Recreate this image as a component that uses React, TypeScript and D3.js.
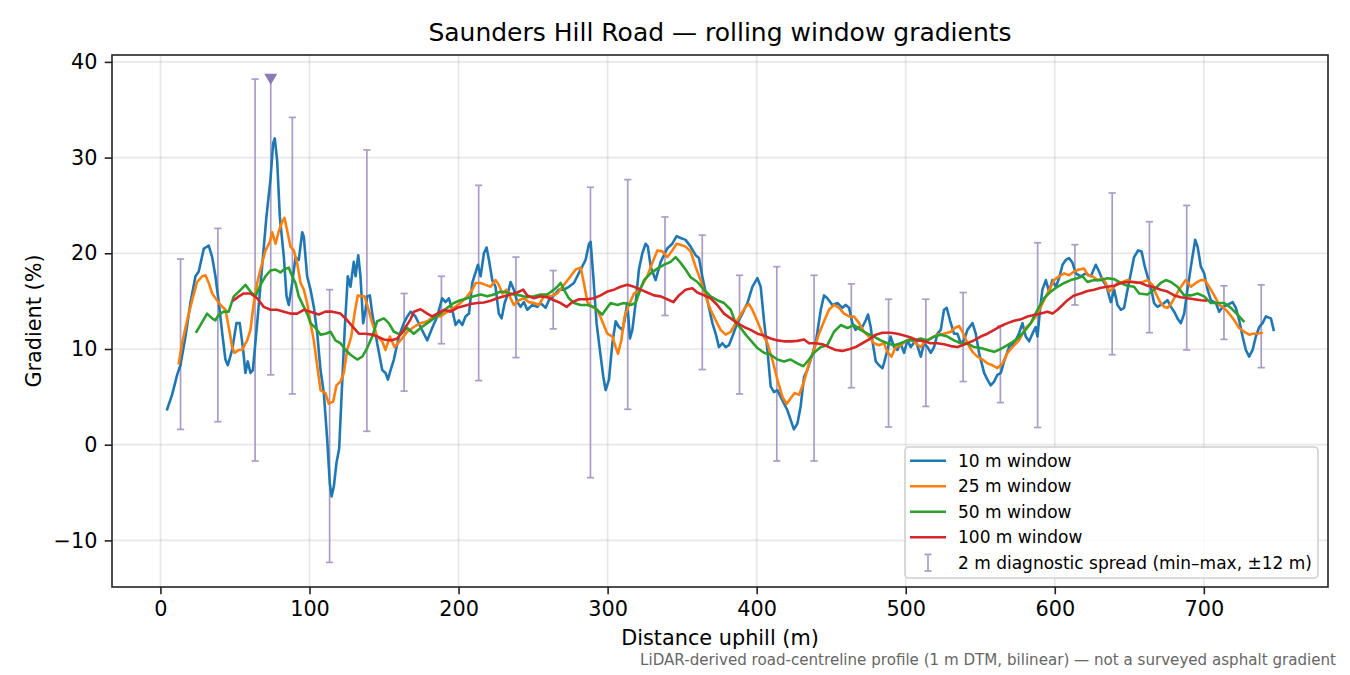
import React, { useEffect, useRef } from 'react';
import * as d3 from 'd3';

type Pt = [number, number];

// rolling-window gradient series: [distance (m), gradient (%)]
const win10: Pt[] = [
  [4.5, 3.7], [7.8, 5.2], [11.2, 7.3], [13.4, 8.3], [16.8, 11.3], [20.1, 14.8], [23.5, 17.6], [25.7, 18.1],
  [29.1, 20.5], [32.4, 20.8], [34.7, 19.6], [36.9, 17.6], [39.2, 14.8], [41.4, 11.7], [43.6, 8.9], [45.2, 8.3],
  [48.1, 9.9], [51, 12.7], [53.2, 12.7], [55.5, 9.9], [57, 7.5], [58.6, 8.7], [60.4, 7.5], [62, 7.8],
  [64.9, 12.7], [68.2, 18.6], [71.1, 23.8], [73.8, 27.7], [75.6, 31.5], [76.7, 32.0], [78.3, 29.7], [80.1, 23.8],
  [82.8, 19.6], [84.6, 15.5], [86.1, 14.6], [88.4, 16.9], [90.6, 19.6], [92.8, 19.3], [95.1, 22.2], [96.2, 21.7],
  [98.4, 17.6], [100.7, 16.2], [102.9, 14.4], [105.2, 11.6], [107.4, 7.8], [109.6, 5.4], [111.9, 0.5], [113.6, -4.0],
  [114.8, -5.4], [116.3, -4.4], [118.1, -1.9], [119.9, -0.4], [121.9, 6.4], [123.7, 12.3], [125.7, 17.6], [127.5, 16.5],
  [129.7, 19.1], [130.9, 17.6], [132.7, 19.8], [134.2, 17.6], [136, 12.7], [137.6, 14.1], [138.7, 15.5], [140.5, 15.6],
  [142.1, 13.7], [145.4, 10.6], [148.8, 7.8], [151, 7.5], [152.6, 6.8], [154.4, 7.8], [156.6, 8.9], [160, 11.3],
  [163.3, 12.7], [165.6, 13.4], [167.8, 13.9], [171.1, 13.4], [174.5, 12.3], [179, 10.9], [182.3, 12.2], [185.7, 13.4],
  [189, 15.3], [191.3, 14.9], [193.5, 15.3], [195.8, 14.1], [198, 12.5], [200.2, 13.0], [202.5, 12.5], [204.7, 13.4],
  [207, 13.7], [209.2, 16.9], [213, 18.8], [214.8, 17.6], [217, 20.0], [218.8, 20.6], [220.4, 19.3], [222.6, 17.2],
  [224.8, 16.5], [227, 13.7], [228.9, 13.2], [230.9, 14.8], [233.1, 15.8], [234.9, 17.0], [237.1, 16.2], [239.4, 14.9],
  [241.6, 14.4], [243.8, 14.9], [246.1, 14.1], [249.5, 14.6], [252.8, 14.4], [255, 14.8], [258.4, 14.3], [260.6, 15.1],
  [264, 15.6], [267.3, 16.2], [270.7, 16.2], [274, 16.5], [277.4, 16.9], [281.9, 18.3], [285.2, 19.3], [287.5, 21.0],
  [288.6, 21.2], [290.4, 17.6], [292.6, 12.7], [294.8, 9.9], [297.1, 7.1], [298.7, 5.7], [300.9, 6.8], [303.2, 10.6],
  [305.4, 12.9], [307.6, 12.3], [309.9, 12.0], [311.4, 13.0], [313.2, 14.8], [315, 11.1], [316.6, 12.0], [318.8, 14.8],
  [321, 18.3], [323.3, 20.0], [325.5, 21.0], [327, 20.7], [328.9, 18.6], [332.2, 17.2], [335.6, 19.1], [340, 20.5],
  [343.4, 21.0], [346.3, 21.8], [348.9, 21.6], [352.3, 21.4], [355.7, 20.7], [359, 19.8], [361.3, 19.5], [363.5, 17.6],
  [366.9, 15.1], [370.3, 12.7], [372.5, 11.6], [374.7, 10.2], [377, 10.6], [379.2, 10.2], [381.4, 10.4], [383.7, 11.3],
  [387, 12.7], [390.4, 13.7], [393.8, 14.8], [397.1, 16.5], [400.5, 17.4], [402.7, 16.5], [404.9, 13.0], [407.2, 9.9],
  [409.4, 6.1], [411.6, 5.5], [413.9, 5.7], [416.1, 5.0], [418.3, 4.3], [420.6, 3.6], [422.8, 2.6], [425, 1.6],
  [427.3, 2.2], [429.5, 4.0], [431.8, 7.1], [434, 7.8], [436.2, 8.9], [439.6, 10.6], [443, 14.1], [445.2, 15.6],
  [447.4, 15.3], [450.8, 14.6], [454.2, 14.8], [457.5, 14.3], [459.7, 14.6], [462, 14.3], [464.2, 12.7], [466.4, 12.0],
  [468.7, 12.3], [470.9, 12.3], [473.2, 13.0], [474.7, 13.6], [476.5, 12.3], [477.6, 10.9], [479.9, 8.7], [482.1, 8.3],
  [484.4, 8.0], [485.4, 8.5], [487.7, 9.9], [489.9, 11.3], [492.2, 10.2], [494.4, 9.9], [496.6, 10.6], [498.9, 9.6],
  [501.1, 10.9], [503.4, 10.2], [506.7, 10.9], [510.1, 9.2], [512.3, 10.6], [514.6, 10.2], [516.8, 9.6], [519, 10.2],
  [521.3, 11.6], [523.5, 12.0], [525.7, 14.1], [527.5, 14.3], [529.7, 13.0], [532.4, 11.6], [534.7, 11.6], [536.9, 10.6],
  [539.1, 10.9], [541.4, 12.0], [544.8, 12.7], [547, 11.6], [549.2, 9.6], [552.6, 7.5], [554.8, 6.8], [557, 6.2],
  [559.3, 6.6], [561.5, 7.3], [563.8, 7.5], [566, 8.7], [569.3, 10.2], [572.7, 10.6], [576, 11.6], [578.3, 12.7],
  [580.5, 11.3], [582.8, 10.8], [585, 11.6], [587.2, 12.3], [588.4, 11.3], [590.1, 14.1], [591.7, 16.2], [594, 17.2],
  [596.2, 16.0], [598.4, 17.2], [600.7, 16.5], [602.9, 17.4], [605.2, 18.8], [607.4, 19.3], [609.6, 19.5], [611.9, 19.0],
  [614.1, 17.9], [617.4, 17.6], [620.8, 17.9], [624.2, 17.6], [627.5, 18.8], [629.7, 18.1], [632, 17.2], [634.9, 16.5],
  [636.5, 15.5], [637.6, 14.9], [639.8, 16.2], [642.1, 14.6], [644.3, 14.1], [646.5, 14.3], [648.8, 16.2], [651, 17.9],
  [653.2, 19.6], [655.9, 20.3], [658.2, 20.2], [660.4, 18.6], [662.2, 17.6], [664.4, 16.5], [666.6, 14.8], [668.9, 14.4],
  [671.1, 14.6], [673.4, 14.8], [675.6, 15.1], [677.9, 14.4], [680.1, 13.9], [682.3, 13.2], [684.6, 12.7], [686.8, 13.7],
  [689, 16.2], [691.7, 19.0], [694.2, 21.4], [695.8, 20.7], [698, 18.6], [700.2, 17.9], [702.5, 16.2], [704.7, 15.1],
  [708.1, 14.8], [710.3, 13.9], [712.6, 14.4], [715.9, 14.6], [719.3, 14.9], [721.5, 14.3], [723.7, 13.0], [726, 11.3],
  [728.2, 9.9], [730.4, 9.2], [732.7, 9.9], [734.9, 11.3], [737.2, 12.3], [739.4, 12.7], [741.6, 13.4], [745, 13.2],
  [746.8, 12.0],
];

const win25: Pt[] = [
  [12.3, 8.5], [14.5, 10.6], [17.9, 13.0], [21.3, 15.1], [24.6, 17.0], [28, 17.6], [30.2, 17.7], [32.4, 16.9],
  [34.7, 15.8], [36.9, 15.3], [40.3, 14.6], [43.6, 14.1], [45.8, 12.3], [48.1, 10.2], [49.7, 9.6], [52.6, 9.9],
  [54.8, 9.9], [58.2, 10.9], [60.4, 12.0], [62.6, 14.8], [64.9, 16.9], [67.1, 18.3], [70.5, 20.3], [73.4, 21.2],
  [75, 22.2], [77.2, 21.0], [79.4, 22.3], [81.7, 23.3], [83.2, 23.7], [85, 22.4], [87.2, 20.7], [89.5, 20.3],
  [91.7, 19.0], [94, 16.9], [96.2, 16.2], [98.4, 14.8], [100.7, 12.7], [102.9, 10.9], [105.2, 8.2], [107.4, 5.7],
  [110.7, 5.4], [112.9, 4.3], [115.9, 4.5], [118.1, 6.2], [120.8, 6.6], [123, 7.5], [125.3, 9.9], [128, 11.3],
  [130.2, 13.7], [132.4, 15.6], [134.7, 15.5], [136.9, 15.5], [139.1, 14.4], [142.1, 12.7], [145.4, 11.3], [148.8, 10.8],
  [151, 9.9], [153.9, 11.3], [157, 10.2], [161, 10.9], [165.6, 11.8], [170, 12.3], [174.5, 12.7], [179, 12.9],
  [183.4, 13.4], [187.9, 13.4], [192.4, 13.9], [196.8, 14.3], [201.3, 14.8], [205.8, 15.5], [209.2, 16.2], [211.4, 16.9],
  [214.8, 16.9], [218.1, 16.7], [221.5, 16.5], [224.8, 17.2], [227, 16.7], [229.3, 15.8], [232.2, 16.2], [234.9, 15.3],
  [237.1, 14.6], [240.5, 15.1], [243.8, 15.3], [247.2, 14.9], [250.6, 14.8], [253.9, 14.6], [257.3, 15.5], [261.7, 15.5],
  [266.2, 15.8], [270.7, 16.7], [275.2, 17.6], [278.5, 18.3], [281.9, 18.5], [284.1, 16.9], [286.4, 14.9], [289.7, 14.4],
  [293.1, 14.1], [296.4, 12.9], [299.8, 11.6], [303.2, 11.3], [305.4, 10.2], [307, 9.5], [309.2, 10.9], [311.4, 13.4],
  [314.3, 14.6], [317.7, 15.8], [320.3, 16.0], [323.3, 16.7], [326.6, 17.6], [330, 19.0], [333.4, 20.3], [336.7, 20.2],
  [340, 19.6], [343.4, 20.3], [346.3, 21.0], [349, 20.9], [352.3, 20.7], [355.7, 20.2], [359, 18.6], [362.4, 17.2],
  [365.8, 15.5], [369.1, 14.1], [372.5, 13.0], [375.8, 12.0], [379.2, 11.5], [382.6, 11.8], [385.9, 12.7], [389.3, 13.6],
  [392.6, 14.4], [394.8, 14.7], [397.1, 14.1], [400.5, 12.9], [403.8, 11.6], [407.2, 10.6], [410.5, 8.9], [413.9, 6.8],
  [417.3, 5.0], [420.1, 4.25], [422.8, 4.85], [425.5, 5.4], [428.4, 5.2], [431.8, 6.6], [435.1, 8.5], [438.5, 9.9],
  [441.8, 11.6], [445.2, 12.9], [448.5, 14.1], [451.9, 14.6], [455.3, 14.3], [458.6, 13.7], [462, 13.4], [465.3, 13.4],
  [468.7, 12.7], [472, 11.8], [475.4, 11.3], [478.7, 10.6], [482.1, 10.4], [485.4, 10.6], [487.7, 9.7], [490.4, 9.2],
  [493.3, 10.2], [496.6, 10.4], [500, 10.8], [503.4, 11.1], [506.7, 10.6], [510.1, 10.2], [513.4, 10.9], [516.8, 11.1],
  [521.3, 11.5], [525.7, 11.6], [530.2, 11.8], [532.9, 12.2], [535.8, 12.4], [538.1, 11.8], [541.4, 10.6], [544.8, 9.7],
  [548.1, 9.2], [551.5, 8.9], [554.8, 8.5], [558.2, 8.3], [561.5, 8.0], [564.9, 8.5], [568.3, 9.6], [571.6, 10.2],
  [576, 10.9], [580.5, 12.2], [583.9, 12.7], [587.2, 13.4], [590.6, 14.4], [594, 15.5], [597.3, 16.5], [599.5, 17.2],
  [602.9, 17.6], [606.3, 17.9], [609.6, 17.7], [613, 18.1], [616.3, 18.3], [619.7, 18.4], [622.4, 17.7], [625.3, 17.6],
  [628.7, 17.2], [632, 17.4], [634.2, 16.9], [636.5, 16.0], [638.7, 16.3], [642.1, 16.9], [645.4, 17.0], [648.8, 17.2],
  [652.1, 17.0], [655.5, 16.9], [658.9, 17.0], [662.2, 17.2], [665.6, 16.7], [667.8, 15.8], [670.7, 14.9], [673.4, 14.4],
  [675.6, 14.3], [678.3, 14.8], [681.2, 15.6], [684.6, 16.5], [687.9, 17.2], [691.3, 16.5], [694.6, 16.9], [698, 17.2],
  [700.7, 17.2], [703.6, 16.5], [707, 15.6], [710.3, 14.6], [713.6, 14.3], [717, 13.7], [720.4, 13.0], [723.7, 12.2],
  [727.1, 11.8], [730.4, 11.5], [732.7, 11.6], [736, 11.6], [738.7, 11.7],
];

const win50: Pt[] = [
  [24.2, 11.8], [26.8, 12.5], [31.3, 13.7], [34.7, 13.2], [36.9, 13.0], [39.2, 13.6], [42.5, 13.9], [45.8, 13.9],
  [49.2, 15.5], [52.6, 16.0], [57, 16.7], [60.4, 16.0], [63.8, 15.5], [67.1, 16.7], [70.5, 17.6], [73.8, 18.2],
  [77.2, 18.3], [80.5, 18.0], [82.8, 18.3], [86.1, 18.5], [88.4, 17.6], [90.6, 16.9], [92.8, 15.5], [96.2, 14.4],
  [98.4, 13.7], [100.7, 12.7], [104, 12.2], [107.4, 11.5], [110.7, 11.6], [114.1, 11.8], [117.4, 10.9], [120.8, 10.6],
  [124.2, 9.9], [127.5, 9.4], [132, 8.9], [135.4, 9.2], [138.7, 10.1], [142.1, 11.3], [145.4, 12.9], [149.9, 13.2],
  [153.2, 12.7], [156.6, 11.8], [161, 11.5], [165.6, 12.2], [170, 11.6], [174.5, 12.2], [179, 12.7], [183.4, 13.2],
  [187.9, 13.7], [192.4, 14.3], [196.8, 14.8], [201.3, 15.1], [205.8, 15.3], [210.3, 15.5], [214.8, 15.7], [219.3, 15.5],
  [223.7, 15.7], [228.2, 16.0], [232.7, 15.9], [237.1, 15.7], [241.6, 15.6], [246.1, 15.4], [250.6, 15.5], [255, 15.7],
  [259.5, 15.7], [264, 16.2], [266.2, 16.5], [268.5, 16.9], [270.7, 16.2], [274, 15.3], [277.4, 14.8], [281.9, 14.6],
  [286.4, 14.6], [290.8, 14.4], [294.2, 13.9], [296.4, 13.6], [298.7, 14.1], [302, 14.8], [306.5, 14.6], [310.9, 14.8],
  [315.4, 14.6], [318.8, 14.8], [321, 15.8], [324.4, 17.2], [328.9, 17.9], [333.3, 18.4], [337.8, 18.8], [342.3, 19.1],
  [345.6, 19.6], [349, 19.0], [352.3, 18.3], [355.7, 17.5], [360.2, 17.0], [364.7, 16.2], [369.1, 15.5], [373.6, 15.1],
  [378.1, 14.8], [382.6, 14.1], [385.9, 12.7], [389.3, 12.2], [392.6, 11.5], [396, 10.9], [400.5, 10.1], [404.9, 9.6],
  [409.4, 9.4], [413.9, 8.9], [418.3, 8.7], [422.8, 8.9], [427.3, 8.5], [431.3, 8.2], [435.1, 8.9], [438.5, 9.6],
  [443, 10.2], [447.4, 10.4], [451.9, 11.8], [456.4, 12.5], [460.9, 12.2], [465.3, 12.5], [469.8, 12.0], [474.3, 11.6],
  [478.7, 11.3], [483.2, 10.9], [487.7, 10.6], [492.2, 10.4], [496.6, 10.6], [501.1, 10.9], [505.6, 10.9], [510.1, 11.1],
  [514.6, 10.9], [519, 11.3], [523.5, 11.5], [528, 11.3], [532.4, 10.9], [536.9, 10.6], [541.4, 10.6], [545.8, 10.2],
  [550.3, 10.1], [554.8, 9.9], [559.3, 9.7], [563.8, 10.0], [567.1, 10.3], [570.5, 10.6], [575, 11.1], [579.4, 11.8],
  [583.9, 12.7], [588.4, 14.1], [592.8, 15.3], [597.3, 16.0], [601.8, 16.5], [606.3, 16.9], [610.7, 17.2], [615.2, 17.4],
  [618.6, 17.6], [621.9, 17.0], [626.4, 17.2], [630.9, 17.2], [635.3, 17.4], [639.8, 17.3], [644.3, 16.9], [648.8, 16.6],
  [653.2, 16.5], [656.6, 15.8], [662.2, 15.7], [666.6, 16.2], [671.1, 16.9], [674.5, 17.2], [677.9, 17.0], [682.3, 16.5],
  [686.8, 15.6], [691.3, 15.6], [695.8, 15.8], [700.2, 15.5], [704.7, 14.8], [709.2, 14.8], [713.6, 14.8], [718.1, 14.3],
  [722.6, 13.6], [726.6, 12.9],
];

const win100: Pt[] = [
  [49.2, 15.1], [52.6, 15.5], [55.9, 15.8], [60.4, 15.8], [64.9, 15.3], [69.3, 14.4], [73.8, 14.1], [78.3, 14.1],
  [82.8, 13.9], [87.2, 13.7], [91.7, 13.7], [96.2, 14.1], [100.7, 13.9], [106.2, 13.6], [110.7, 13.9], [115.2, 13.9],
  [120.8, 13.7], [125.3, 13.0], [129.7, 12.2], [133.1, 11.6], [137.6, 11.6], [142.1, 11.5], [145.4, 11.3], [149.9, 11.0],
  [154.4, 10.9], [158.9, 11.1], [163.3, 12.0], [167.8, 13.1], [170, 13.9], [174.5, 14.15], [179, 13.7], [182.3, 13.4],
  [185.7, 13.7], [190.2, 14.1], [194.6, 13.9], [199.1, 14.3], [203.6, 14.5], [208.1, 14.7], [212.5, 14.8], [217, 14.85],
  [221.5, 15.05], [226, 15.3], [230.4, 15.5], [234.9, 15.7], [239.4, 15.9], [243.4, 16.2], [246.1, 15.6], [250.6, 15.3],
  [255, 15.5], [259.5, 15.4], [264, 15.1], [268.5, 14.8], [272.5, 14.4], [276.3, 14.9], [280.8, 15.2], [286.4, 15.2],
  [290.8, 15.3], [295.3, 15.6], [299.8, 16.0], [304.3, 16.2], [308.7, 16.5], [313.2, 16.7], [317.7, 16.5], [322.1, 16.2],
  [326.6, 15.9], [331.1, 15.6], [335.6, 15.5], [340, 15.2], [344.1, 14.9], [347.8, 15.6], [352.3, 16.2], [356.8, 16.35],
  [360.2, 15.9], [364.7, 15.6], [369.1, 15.3], [373.6, 14.6], [378.1, 13.7], [382.6, 13.2], [387, 12.7], [391.5, 12.3],
  [396, 12.0], [400.5, 11.6], [404.9, 11.4], [409.4, 11.1], [413.9, 10.9], [418.3, 10.8], [422.8, 10.8], [427.3, 10.85],
  [431.8, 11.0], [435.1, 10.6], [439.6, 10.6], [444.1, 10.5], [448.5, 10.2], [453, 9.9], [457.5, 9.8], [462, 9.97],
  [466.4, 10.2], [470.9, 10.6], [475.4, 11.0], [479.9, 11.5], [484.4, 11.7], [490, 11.7], [494.4, 11.6], [498.9, 11.4],
  [503.4, 11.2], [507.8, 10.9], [512.3, 10.8], [516.8, 10.6], [521.3, 10.6], [525.7, 10.5], [530.2, 10.3], [534.7, 10.2],
  [538.1, 10.4], [541.4, 10.6], [545.8, 10.9], [550.3, 11.3], [554.8, 11.6], [559.3, 12.0], [563.8, 12.4], [568.3, 12.7],
  [572.7, 12.95], [577.2, 13.1], [581.7, 13.4], [586.1, 13.55], [590.6, 13.7], [595.1, 13.9], [598.5, 13.7], [601.8, 14.1],
  [605.2, 14.6], [608.5, 15.1], [613, 15.6], [617.4, 15.8], [621.9, 16.05], [626.4, 16.2], [630.9, 16.4], [635.3, 16.5],
  [639.8, 16.6], [644.3, 16.9], [648.8, 17.0], [653.2, 17.0], [657.7, 16.9], [662.2, 16.6], [666.6, 16.45], [671.1, 16.2],
  [675.6, 16.0], [680.1, 15.6], [684.6, 15.4], [689, 15.3], [693.5, 15.2], [698, 15.1], [701.3, 15.05],
];

// 2 m diagnostic spread (min–max within ±12 m)
const spreadD = [13.5, 38.5, 63.5, 88.5, 113.5, 138.5, 163.5, 188.5, 213.5, 238.5, 263.5, 288.5, 313.5, 338.5, 363.5,
  388.5, 413.5, 438.5, 463.5, 488.5, 513.5, 538.5, 563.5, 588.5, 613.5, 638.5, 663.5, 688.5, 713.5, 738.5];
const spreadMin = [1.6, 2.4, -1.7, 5.3, -12.3, 1.4, 5.6, 10.55, 6.7, 9.1, 12.1, -3.45, 3.7, 13.5, 7.85,
  5.3, -1.7, -1.7, 5.95, 1.85, 4.0, 6.6, 4.4, 1.8, 14.6, 9.4, 11.7, 9.9, 11.0, 8.05];
const spreadMax = [19.4, 22.6, 38.2, 34.2, 16.2, 30.8, 15.8, 17.6, 27.1, 19.6, 18.2, 26.9, 27.7, 23.8, 21.9,
  17.7, 18.6, 17.7, 16.8, 15.2, 15.2, 15.9, 12.4, 21.1, 20.9, 26.3, 23.3, 25.0, 16.6, 16.7];

// steepest point marker
const peakD = 74;
const peakMin = 7.3;
const peakMax = 38.3;

const seriesNames = ['10 m window', '25 m window', '50 m window', '100 m window'];
const seriesColors = ['#1f77b4', '#ff7f0e', '#2ca02c', '#d62728'];
const xTicks = [0, 100, 200, 300, 400, 500, 600, 700];
const yTicks = [-10, 0, 10, 20, 30, 40];

const W = 1350;
const H = 675;
const FONT = '"DejaVu Sans", sans-serif';
const ERR = '#a99dc8';

const App = () => {
  const svgRef = useRef<SVGSVGElement>(null);

  useEffect(() => {
    if (!svgRef.current) return;
    const svg = d3.select(svgRef.current);
    svg.selectAll('*').remove();

    const left = 112, right = 1328, top = 55, bottom = 587;

    const x = d3.scaleLinear().domain([-32.5, 783.3]).range([left, right]);
    const y = d3.scaleLinear().domain([-14.87, 40.72]).range([bottom, top]);

    svg.append('rect').attr('width', W).attr('height', H).attr('fill', '#fff');

    // grid
    const grid = svg.append('g');
    xTicks.forEach(t => {
      grid.append('line')
        .attr('x1', x(t)).attr('x2', x(t)).attr('y1', top).attr('y2', bottom)
        .attr('stroke', '#b0b0b0').attr('stroke-opacity', 0.3).attr('stroke-width', 1.7);
    });
    yTicks.forEach(t => {
      grid.append('line')
        .attr('x1', left).attr('x2', right).attr('y1', y(t)).attr('y2', y(t))
        .attr('stroke', '#b0b0b0').attr('stroke-opacity', 0.3).attr('stroke-width', 1.7);
    });

    const plot = svg.append('g');

    // error bars
    const cap = 3.6;
    spreadD.forEach((d, i) => {
      const cx = x(d);
      plot.append('line').attr('x1', cx).attr('x2', cx)
        .attr('y1', y(spreadMin[i])).attr('y2', y(spreadMax[i]))
        .attr('stroke', ERR).attr('stroke-width', 1.7);
      [spreadMin[i], spreadMax[i]].forEach(v => {
        plot.append('line').attr('x1', cx - cap).attr('x2', cx + cap)
          .attr('y1', y(v)).attr('y2', y(v))
          .attr('stroke', ERR).attr('stroke-width', 1.7);
      });
    });
    const px = x(peakD);
    plot.append('line').attr('x1', px).attr('x2', px)
      .attr('y1', y(peakMin)).attr('y2', y(peakMax))
      .attr('stroke', ERR).attr('stroke-width', 1.7);
    plot.append('line').attr('x1', px - cap).attr('x2', px + cap)
      .attr('y1', y(peakMin)).attr('y2', y(peakMin))
      .attr('stroke', ERR).attr('stroke-width', 1.7);
    const py = y(peakMax);
    plot.append('path')
      .attr('d', `M${px - 6.5},${py - 4.5} L${px + 6.5},${py - 4.5} L${px},${py + 6.5} Z`)
      .attr('fill', '#8a7bb4');

    // series lines
    const line = d3.line<Pt>().x(d => x(d[0])).y(d => y(d[1]));
    [win10, win25, win50, win100].forEach((s, i) => {
      plot.append('path')
        .datum(s)
        .attr('fill', 'none')
        .attr('stroke', seriesColors[i])
        .attr('stroke-width', 2.6)
        .attr('stroke-linejoin', 'round')
        .attr('stroke-linecap', 'square')
        .attr('d', line);
    });

    // axes
    const xAxis = svg.append('g').attr('transform', `translate(0,${bottom})`)
      .call(d3.axisBottom(x).tickValues(xTicks).tickSize(7.3).tickPadding(7.3).tickFormat(d3.format('d')));
    const yAxis = svg.append('g').attr('transform', `translate(${left},0)`)
      .call(d3.axisLeft(y).tickValues(yTicks).tickSize(7.3).tickPadding(7.3).tickFormat(d3.format('d')));
    [xAxis, yAxis].forEach(a => {
      a.select('.domain').remove();
      a.selectAll('line').attr('stroke', '#222').attr('stroke-width', 1.6);
      a.selectAll('text').attr('font-family', FONT).attr('font-size', 20.8).attr('fill', '#000');
    });

    svg.append('rect')
      .attr('x', left).attr('y', top).attr('width', right - left).attr('height', bottom - top)
      .attr('fill', 'none').attr('stroke', '#222').attr('stroke-width', 1.6);

    // labels
    svg.append('text').attr('x', (left + right) / 2).attr('y', 41)
      .attr('text-anchor', 'middle').attr('font-family', FONT).attr('font-size', 25)
      .text('Saunders Hill Road — rolling window gradients');
    svg.append('text').attr('x', (left + right) / 2).attr('y', 645)
      .attr('text-anchor', 'middle').attr('font-family', FONT).attr('font-size', 20.8)
      .text('Distance uphill (m)');
    svg.append('text').attr('transform', `translate(41,${(top + bottom) / 2}) rotate(-90)`)
      .attr('text-anchor', 'middle').attr('font-family', FONT).attr('font-size', 20.8)
      .text('Gradient (%)');
    svg.append('text').attr('x', 1336).attr('y', 665)
      .attr('text-anchor', 'end').attr('font-family', FONT).attr('font-size', 15.1).attr('fill', '#666')
      .text('LiDAR-derived road-centreline profile (1 m DTM, bilinear) — not a surveyed asphalt gradient');

    // legend
    const lg = svg.append('g');
    lg.append('rect')
      .attr('x', 905).attr('y', 447).attr('width', 413).attr('height', 131).attr('rx', 4)
      .attr('fill', '#fff').attr('fill-opacity', 0.8).attr('stroke', '#d0d0d0').attr('stroke-width', 1.6);
    const rowY = (i: number) => 460.7 + i * 25.5;
    seriesNames.forEach((name, i) => {
      lg.append('line').attr('x1', 910).attr('x2', 946).attr('y1', rowY(i)).attr('y2', rowY(i))
        .attr('stroke', seriesColors[i]).attr('stroke-width', 2.6);
      lg.append('text').attr('x', 958).attr('y', rowY(i) + 6)
        .attr('font-family', FONT).attr('font-size', 17).text(name);
    });
    const ey = rowY(4);
    lg.append('line').attr('x1', 928).attr('x2', 928).attr('y1', ey - 8.3).attr('y2', ey + 8.3)
      .attr('stroke', ERR).attr('stroke-width', 1.7);
    [ey - 8.3, ey + 8.3].forEach(v => {
      lg.append('line').attr('x1', 928 - cap).attr('x2', 928 + cap).attr('y1', v).attr('y2', v)
        .attr('stroke', ERR).attr('stroke-width', 1.7);
    });
    lg.append('text').attr('x', 958).attr('y', ey + 6)
      .attr('font-family', FONT).attr('font-size', 17).text('2 m diagnostic spread (min–max, ±12 m)');
  }, []);

  return (
    <svg
      ref={svgRef}
      width={W}
      height={H}
      style={{ position: 'fixed', left: 0, top: 0, display: 'block' }}
    />
  );
};

export default App;
